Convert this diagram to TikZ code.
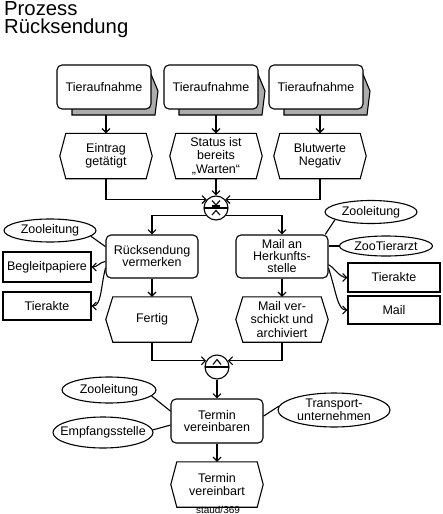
\documentclass[tikz,border=0pt]{standalone}
\usepackage{fontspec}
\setmainfont{Liberation Sans}
\usetikzlibrary{arrows.meta,shapes.geometric}
\newcommand\hexframe[2][6pt]{\draw[ln] (#2.west) -- ([xshift=#1]#2.north west) -- ([xshift=-#1]#2.north east) -- (#2.east) -- ([xshift=-#1]#2.south east) -- ([xshift=#1]#2.south west) -- cycle;}
\newcommand\startev[3]{%
  \begin{scope}[shift={(#2,#3)}]
    \draw[ln, fill=gray!65] (44,-20) -- (54,4) -- (51,28) -- (-32,28) -- (-32,21);
    \coordinate (#1b) at (3,28);
  \end{scope}
  \node[stev] (#1) at (#2,#3) {Tieraufnahme};}
\begin{document}
\begin{tikzpicture}[x=1pt,y=-1pt,
  every node/.style={font=\fontsize{12.5}{12}\selectfont, align=center},
  ln/.style={line width=1.1pt},
  flow/.style={ln, -{Straight Barb[length=4pt,width=8pt]}},
  fn/.style={ln, draw, rounded corners=5pt, minimum width=92pt, minimum height=43pt, inner sep=0pt, fill=white},
  stev/.style={ln, draw, rounded corners=5pt, minimum width=94pt, minimum height=44pt, inner sep=0pt, fill=white},
  ev/.style={minimum width=92pt, minimum height=45pt, inner sep=0pt, font=\fontsize{12.5}{13.5}\selectfont},
  org/.style={ellipse, draw, ln, inner sep=-15pt, font=\fontsize{12.5}{11.5}\selectfont},
  obj/.style={draw, ln, inner sep=0pt},
  conn/.style={circle, draw, ln, minimum size=24pt, inner sep=0pt},
]
\useasboundingbox (0,0) rectangle (442,514);

% title
\node[anchor=base west, inner sep=0pt, font=\fontsize{20.3}{20}\selectfont] (title1) at (4,15) {Prozess};
\node[anchor=base west, inner sep=0pt, font=\fontsize{20.3}{20}\selectfont] (title2) at (4,33.5) {Rücksendung};

% start events
\startev{s1}{104}{87}
\startev{s2}{211}{87}
\startev{s3}{316}{87}

% events
\node[ev] (e1) at (106,156) {Eintrag\\getätigt};
\node[ev] (e2) at (216,156) {Status ist\\bereits\\„Warten“};
\node[ev] (e3) at (320,156) {Blutwerte\\Negativ};
\hexframe{e1}\hexframe{e2}\hexframe{e3}

% XOR connector
\node[conn] (xor) at (216,208) {};
\begin{scope}[shift={(xor.center)}]
  \draw[ln] (-12,0) -- (12,0);
  \draw[ln] (-4,-7.5) -- (0,-3) -- (4,-7.5);
  \draw[ln] (-4,-2) -- (4,-2);
  \draw[ln] (-4,7) -- (0,2.5) -- (4,7);
\end{scope}

% functions
\node[fn] (f1) at (152,256.5) {Rücksendung\\vermerken};
\node[fn] (f2) at (282,256.5) {Mail an\\Herkunfts-\\stelle};

% events after functions
\node[ev] (e4) at (152,319.5) {Fertig};
\node[ev] (e5) at (282,319.5) {Mail ver-\\schickt und\\archiviert};
\hexframe[7pt]{e4}\hexframe[7pt]{e5}

% AND connector
\node[conn] (and) at (217,367) {};
\begin{scope}[shift={(and.center)}]
  \draw[ln] (-12,0) -- (12,0);
  \draw[ln] (-4,-2.5) -- (0,-7.5) -- (4,-2.5);
\end{scope}

\node[fn, minimum height=44pt] (f3) at (217,421) {Termin\\vereinbaren};
\node[ev] (e6) at (217,484.5) {Termin\\vereinbart};
\hexframe{e6}

% org units
\node[org, minimum width=92pt, minimum height=23pt] (zl1) at (50,230.5) {Zooleitung};
\node[org, minimum width=92pt, minimum height=23pt] (zl2) at (371,212) {Zooleitung};
\node[org, minimum width=93pt, minimum height=20pt] (zt) at (386,246) {ZooTierarzt};
\node[org, minimum width=94pt, minimum height=26pt] (zl3) at (109,390) {Zooleitung};
\node[org, minimum width=100pt, minimum height=31pt] (es) at (103,432.5) {Empfangsstelle};
\node[org, minimum width=112pt, minimum height=34pt] (tu) at (334,410) {Transport-\\unternehmen};

% information objects
\node[obj, minimum width=88pt, minimum height=30pt] (bp) at (47,267) {Begleitpapiere};
\node[obj, minimum width=88pt, minimum height=28pt] (ta1) at (47,306) {Tierakte};
\node[obj, minimum width=92pt, minimum height=29pt] (ta2) at (394,277.5) {Tierakte};
\node[obj, minimum width=92pt, minimum height=28pt] (ml) at (394,310) {Mail};

% footer
\node[anchor=base, inner sep=0pt, font=\fontsize{10}{10}\selectfont] (foot) at (218,513) {staud/369};

% control flow
\draw[flow] (s1b -| e1.north) -- (e1.north);
\draw[flow] (s2b -| e2.north) -- (e2.north);
\draw[flow] (s3b -| e3.north) -- (e3.north);
\draw[flow] (e1.south) |- (xor.138);
\draw[flow] (e2.south) -- (xor.north);
\draw[flow] (e3.south) |- (xor.42);
\draw[flow] (xor.216) -| (f1.north);
\draw[flow] (xor.-36) -| (f2.north);
\draw[flow] (f1.south) -- (e4.north);
\draw[flow] (f2.south) -- (e5.north);
\draw[flow] (e4.south) |- (and.150);
\draw[flow] (e5.south) |- (and.30);
\draw[flow] (and.south) -- (f3.north);
\draw[flow] (f3.south) -- (e6.north);

% org and info links
\draw[ln] (zl1.-8) -- (f1.168);
\draw[flow] (f1.186) .. controls +(-6,1) and +(6,0) .. (bp.east);
\draw[flow] (f1.194) .. controls +(-5,20) and +(10,0) .. (ta1.east);
\draw[ln] (zl2.192) -- (f2.27);
\draw[ln] (zt.west) -- (f2.east |- zt.west);
\draw[flow] (f2.-10) .. controls +(6,3) and +(-8,0) .. (ta2.west);
\draw[flow] (f2.-14) .. controls +(8,25) and +(-10,0) .. (ml.west);
\draw[ln] (zl3.-8) -- (f3.168);
\draw[ln] (es.3) -- (f3.185);
\draw[ln] (tu.176) -- (f3.6);
\end{tikzpicture}
\end{document}
